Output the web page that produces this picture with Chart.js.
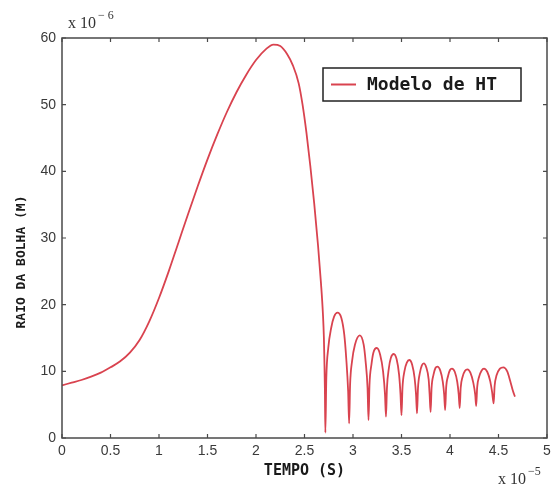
<!DOCTYPE html>
<html>
<head>
<meta charset="utf-8">
<script src="https://cdn.jsdelivr.net/npm/chart.js@4.4.1/dist/chart.umd.min.js"></script>
<style>
  html, body { margin: 0; padding: 0; background: #fff; }
  #wrap { width: 557px; height: 486px; position: relative; }
</style>
</head>
<body>
<div id="wrap"><canvas id="raioCanvas"></canvas></div>
<script>
// tempo em unidades de 1e-5 s, raio em unidades de 1e-6 m
const tempoCrescimento = [0, 0.1, 0.2, 0.3, 0.4, 0.5, 0.6, 0.7, 0.8, 0.9, 1.0, 1.1, 1.2, 1.3, 1.4, 1.5, 1.6, 1.7, 1.8, 1.9, 2.0, 2.1, 2.18, 2.25, 2.32, 2.38, 2.44, 2.48, 2.52, 2.56, 2.6, 2.64, 2.67, 2.69, 2.7, 2.705, 2.71, 2.715];
const raioCrescimento  = [7.9, 8.3, 8.7, 9.2, 9.8, 10.6, 11.5, 12.8, 14.7, 17.5, 21.0, 25.0, 29.3, 33.6, 37.8, 41.8, 45.5, 48.9, 51.9, 54.5, 56.7, 58.3, 59.0, 58.8, 57.6, 55.9, 53.2, 50.0, 45.8, 40.8, 35.2, 28.8, 23.2, 18.6, 15.0, 11.6, 7.5, 0.8];

// rebotes depois do colapso
const tempoRebote = [
  2.725, 2.745, 2.775, 2.805, 2.84, 2.88, 2.91, 2.93, 2.95, 2.96,
  2.97, 2.99, 3.02, 3.07, 3.11, 3.13, 3.15, 3.16,
  3.17, 3.19, 3.21, 3.245, 3.28, 3.31, 3.33, 3.34,
  3.35, 3.37, 3.39, 3.42, 3.45, 3.475, 3.49, 3.5,
  3.51, 3.53, 3.555, 3.58, 3.61, 3.635, 3.65, 3.66,
  3.67, 3.69, 3.71, 3.73, 3.755, 3.78, 3.79, 3.8,
  3.81, 3.83, 3.85, 3.87, 3.9, 3.925, 3.94, 3.95,
  3.96, 3.98, 4.0, 4.02, 4.05, 4.075, 4.09, 4.1,
  4.11, 4.13, 4.155, 4.18, 4.21, 4.24, 4.26, 4.27,
  4.28, 4.3, 4.325, 4.35, 4.385, 4.415, 4.435, 4.45,
  4.46, 4.48, 4.515, 4.55, 4.59, 4.62, 4.65, 4.67
];
const raioRebote = [
  9, 13.5, 16.5, 18.2, 18.8, 18, 15.5, 12, 7, 2.2,
  8, 11.5, 14, 15.4, 14, 11.5, 7.5, 2.7,
  8, 11, 12.8, 13.5, 12.5, 10, 6.5, 3.2,
  7.5, 10.5, 12, 12.6, 11.8, 9.5, 6.5, 3.4,
  7.5, 10, 11.3, 11.7, 11, 9, 6.5, 3.7,
  7.5, 9.8, 10.9, 11.2, 10.6, 8.8, 6.5, 3.9,
  7.5, 9.5, 10.5, 10.7, 10.1, 8.5, 6.5, 4.2,
  7.5, 9.3, 10.2, 10.4, 9.9, 8.4, 6.5, 4.5,
  7.5, 9.2, 10.1, 10.3, 9.8, 8.3, 6.5, 4.8,
  7.6, 9.2, 10.1, 10.4, 9.9, 8.5, 6.8, 5.2,
  7.8, 9.4, 10.4, 10.6, 10, 8.6, 7, 6.2
];

const tituloX = 'TEMPO (S)';
const tituloY = 'RAIO DA BOLHA (M)';

const tempoTodo = tempoCrescimento.concat(tempoRebote);
const raioTodo = raioCrescimento.concat(raioRebote);
const pontos = tempoTodo.map((t, i) => ({ x: t, y: raioTodo[i] }));

const corLinha = '#d9434f';
const corEixo = '#4a4a4a';

// moldura, marcas para dentro, legenda, titulo Y e multiplicadores
const molduraPlugin = {
  id: 'moldura',
  afterDraw(chart) {
    const { ctx, chartArea: a, scales } = chart;
    ctx.save();
    ctx.strokeStyle = corEixo;
    ctx.lineWidth = 1.5;
    ctx.strokeRect(a.left, a.top, a.right - a.left, a.bottom - a.top);

    ctx.lineWidth = 1.2;
    const tam = 4;
    scales.x.ticks.forEach(tk => {
      const px = scales.x.getPixelForValue(tk.value);
      ctx.beginPath();
      ctx.moveTo(px, a.bottom); ctx.lineTo(px, a.bottom - tam);
      ctx.moveTo(px, a.top); ctx.lineTo(px, a.top + tam);
      ctx.stroke();
    });
    scales.y.ticks.forEach(tk => {
      const py = scales.y.getPixelForValue(tk.value);
      ctx.beginPath();
      ctx.moveTo(a.left, py); ctx.lineTo(a.left + tam, py);
      ctx.moveTo(a.right, py); ctx.lineTo(a.right - tam, py);
      ctx.stroke();
    });

    // legenda
    const lx = 323, ly = 68, lw = 198, lh = 33;
    ctx.fillStyle = '#fff';
    ctx.fillRect(lx, ly, lw, lh);
    ctx.strokeStyle = '#222';
    ctx.lineWidth = 1.5;
    ctx.strokeRect(lx, ly, lw, lh);
    ctx.strokeStyle = corLinha;
    ctx.lineWidth = 2;
    ctx.beginPath();
    ctx.moveTo(lx + 8, ly + lh / 2); ctx.lineTo(lx + 33, ly + lh / 2);
    ctx.stroke();
    ctx.fillStyle = '#1a1a1a';
    ctx.font = 'bold 18px "DejaVu Sans Mono"';
    ctx.textBaseline = 'middle';
    ctx.fillText(chart.data.datasets[0].label, lx + 44, ly + lh / 2 + 1);

    // titulo do eixo Y
    ctx.save();
    ctx.translate(22, 262);
    ctx.rotate(-Math.PI / 2);
    ctx.textAlign = 'center';
    ctx.textBaseline = 'middle';
    ctx.font = 'bold 13px "DejaVu Sans Mono"';
    ctx.fillText(tituloY, 0, 0);
    ctx.restore();

    // multiplicadores
    ctx.fillStyle = '#333';
    ctx.textBaseline = 'alphabetic';
    ctx.font = '16px "Liberation Serif"';
    ctx.fillText('x 10', 68, 28);
    ctx.fillText('x 10', 498, 484);
    ctx.font = '12px "Liberation Serif"';
    ctx.fillText('\u2212 6', 98, 19);
    ctx.fillText('\u22125', 528, 475);
    ctx.restore();
  }
};

new Chart(document.getElementById('raioCanvas').getContext('2d'), {
  type: 'line',
  data: {
    datasets: [{
      label: 'Modelo de HT',
      data: pontos,
      borderColor: corLinha,
      borderWidth: 1.8,
      pointRadius: 0,
      fill: false,
      cubicInterpolationMode: 'monotone'
    }]
  },
  options: {
    responsive: true,
    maintainAspectRatio: false,
    animation: false,
    layout: { padding: { top: 38, right: 10, left: 0, bottom: 0 } },
    plugins: {
      legend: { display: false },
      tooltip: { enabled: false }
    },
    scales: {
      x: {
        type: 'linear',
        min: 0,
        max: 5,
        ticks: {
          stepSize: 0.5, padding: 5, color: '#3a3a3a',
          font: { family: 'Liberation Sans', size: 14 },
          callback: v => String(+v.toFixed(2))
        },
        grid: { display: false, drawTicks: false },
        border: { display: false },
        title: {
          display: true,
          text: tituloX,
          color: '#1a1a1a',
          font: { family: 'DejaVu Sans Mono', size: 15, weight: 'bold' },
          padding: { top: 0, bottom: 6 }
        },
        afterFit(s) { s.height = 48; }
      },
      y: {
        min: 0,
        max: 60,
        ticks: { stepSize: 10, padding: 6, color: '#3a3a3a', font: { family: 'Liberation Sans', size: 14 } },
        grid: { display: false, drawTicks: false },
        border: { display: false },
        afterFit(s) { s.width = 62; }
      }
    }
  },
  plugins: [molduraPlugin]
});
</script>
</body>
</html>
